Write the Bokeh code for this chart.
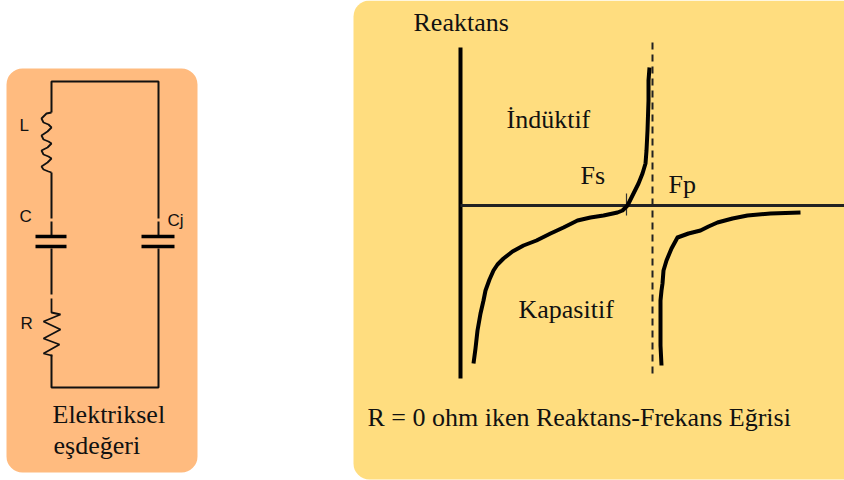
from bokeh.plotting import figure
from bokeh.embed import file_html
from bokeh.resources import INLINE
from bokeh.core.properties import value

# reactance curves
curve_a_x = [473,475,477,480,483,485,489,493,497,503,512,523,536,550,563,577,590,603,617,622,627,632,638,642,645,646,647,648,648,649]
curve_a_y = [363,348,330,313,300,290,279,270,264,258,251,245,240,233,227,220,217,215,212,210,205,195,183,173,163,150,130,100,80,67]
curve_b_x = [661,660,660,660,661,662,663,666,671,677,688,700,708,717,732,747,770,800]
curve_b_y = [365,345,323,300,290,283,270,260,248,237,233,230,226,222,218,215,213,212]
axis_v_x = [460,460]; axis_v_y = [47,378]
axis_h_x = [460,844]; axis_h_y = [205,205]
dash_x = [652,652]; dash_y = [42,378]
tick_x = [626,626]; tick_y = [193,215]

# circuit wires
wire_segments_x = [[51,51,158,158],[51,51],[51,51],[51,51],[51,51,158,158],[158,158]]
wire_segments_y = [[112,81,81,218],[172,218],[221,235],[248,294],[354,387,387,248],[221,235]]
plates_x = [[35,66],[35,66],[141,174],[141,174]]
plates_y = [[236,236],[246,246],[236,236],[246,246]]
coil_x = [51,46,41,43,48,51,47,41,43,48,51,47,41,43,48,51,47,41,43,48,51]
coil_y = [112,113,118,122,124,127,131,135,139,141,143,147,150,154,156,158,162,166,169,171,172]
resistor_x = [51,51,60,43,60,43,59,43,51,51]
resistor_y = [298,312,314,321,329,338,344,353,355,356]

# panels: left, right, top, bottom, colour
panel_l = [6,353]; panel_r = [197,860]; panel_t = [68,0]; panel_b = [472,479]
panel_c = ["#FFBB7F","#FFDD7F"]

serif_labels = ["Reaktans","İndüktif","Fs","Fp","Kapasitif","R = 0 ohm iken Reaktans-Frekans Eğrisi","Elektriksel","eşdeğeri"]
serif_x = [413,506,580,668,518,367,52,53]
serif_y = [22,119,175,184,309,417,414,445]
sans_labels = ["L","C","Cj","R"]
sans_x = [19,19,167,20]
sans_y = [125,216,220,323]

p = figure(width=844, height=480, x_range=(0,844), y_range=(480,0),
           toolbar_location=None, output_backend="svg", min_border=0)
p.axis.visible = False
p.grid.visible = False
p.outline_line_color = None

p.quad(left=panel_l, right=panel_r, top=panel_t, bottom=panel_b,
       fill_color=panel_c, line_color=None, border_radius=16)

p.line(axis_v_x, axis_v_y, line_color="#000000", line_width=4)
p.line(axis_h_x, axis_h_y, line_color="#222222", line_width=3)
p.line(dash_x, dash_y, line_color="#222222", line_width=2, line_dash="7 5")
p.line(tick_x, tick_y, line_color="#333333", line_width=1.2)
p.line(curve_a_x, curve_a_y, line_color="#000000", line_width=4, line_join="round")
p.line(curve_b_x, curve_b_y, line_color="#000000", line_width=4, line_join="round")

p.multi_line(wire_segments_x, wire_segments_y, line_color="#111111", line_width=2)
p.multi_line(plates_x, plates_y, line_color="#000000", line_width=3.5)
p.line(coil_x, coil_y, line_color="#111111", line_width=1.8)
p.line(resistor_x, resistor_y, line_color="#111111", line_width=1.8)

p.text(serif_x, serif_y, text=serif_labels, text_font=value("Liberation Serif"),
       text_font_size="26px", text_color="#111111", text_baseline="middle", text_align="left")
p.text(sans_x, sans_y, text=sans_labels, text_font=value("Liberation Sans"),
       text_font_size="17px", text_color="#111111", text_baseline="middle", text_align="left")

open("out.html", "w").write(file_html(p, INLINE))
